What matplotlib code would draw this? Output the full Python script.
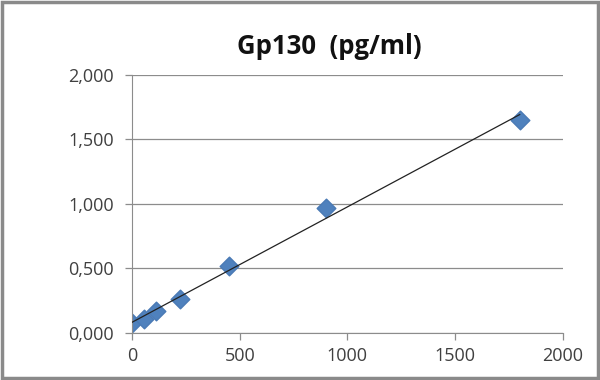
import matplotlib
matplotlib.use('Agg')
import matplotlib.pyplot as plt
import numpy as np
from matplotlib.patches import Rectangle
from matplotlib.ticker import FuncFormatter

# standard curve points
conc = [0, 56.25, 112.5, 225, 450, 900, 1800]
od = [0.075, 0.105, 0.17, 0.265, 0.52, 0.965, 1.65]
x_ticks = [0, 500, 1000, 1500, 2000]
y_ticks = [0.0, 0.5, 1.0, 1.5, 2.0]

plt.rcParams['font.family'] = ['Open Sans', 'DejaVu Sans']

fig = plt.figure(figsize=(6, 3.8), dpi=100)
ax = fig.add_axes([0.22, 0.1237, 0.718, 0.679])

# linear trendline
slope, intercept = np.polyfit(conc, od, 1)
xs = np.array([min(conc), max(conc)])
ax.plot(xs, slope * xs + intercept, color='#222222', lw=0.9, zorder=3)

ax.scatter(conc, od, marker='D', s=90, color='#4F81BD', edgecolor='#4A7AB5', zorder=2)

ax.set_xlim(0, 2000)
ax.set_ylim(0, 2.0)
ax.set_xticks(x_ticks)
ax.set_yticks(y_ticks)
ax.yaxis.set_major_formatter(FuncFormatter(lambda v, p: f"{v:.3f}".replace('.', ',')))
ax.xaxis.set_major_formatter(FuncFormatter(lambda v, p: f"{int(v)}"))

ax.grid(axis='y', color='#8c8c8c', lw=0.9)
ax.set_axisbelow(True)
for s in ['top', 'right']:
    ax.spines[s].set_visible(False)
for s in ['left', 'bottom']:
    ax.spines[s].set_color('#8c8c8c')
ax.tick_params(colors='#8c8c8c', labelcolor='#404040', labelsize=13, length=5, width=0.9)
ax.tick_params(axis='x', pad=5)
ax.tick_params(axis='y', pad=8)

fig.text(0.549, 0.878, 'Gp130  (pg/ml)', ha='center', va='center',
         fontsize=18.5, fontweight='bold', color='#111111')

fig.patches.append(Rectangle((0.003, 0.004), 0.994, 0.992, transform=fig.transFigure,
                             fill=False, edgecolor='#8a8a8a', lw=2.5))

fig.savefig('out.png', dpi=100)
